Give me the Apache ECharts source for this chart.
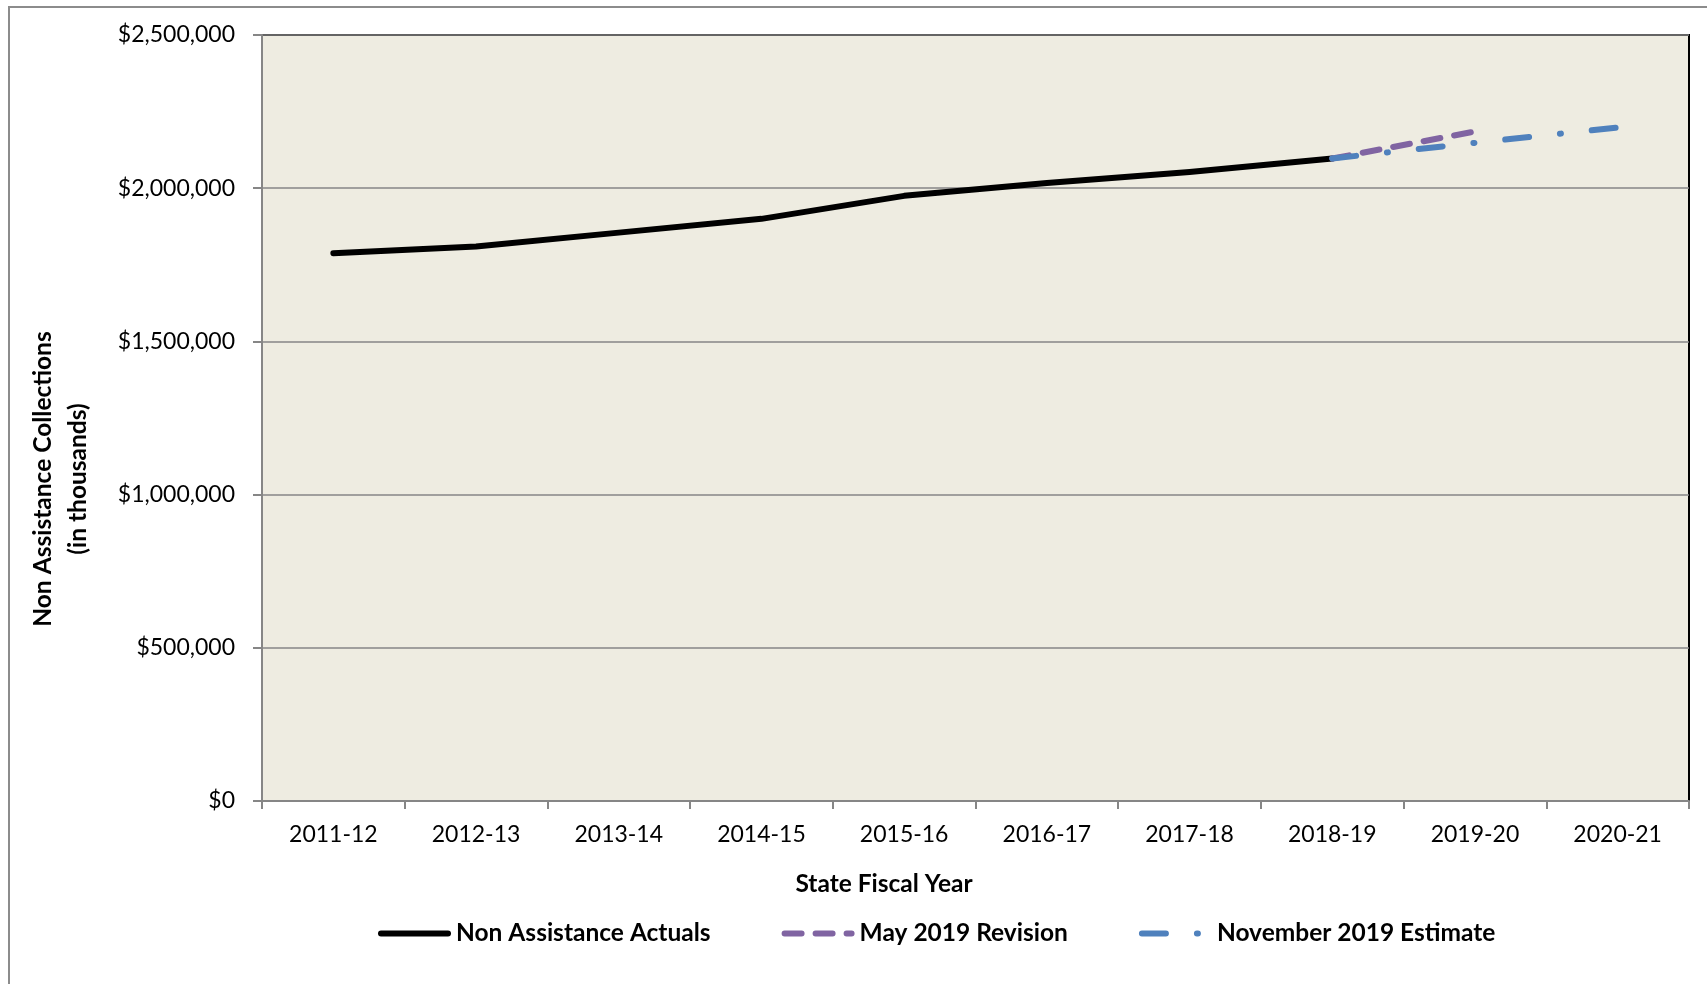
<!DOCTYPE html>
<html>
<head>
<meta charset="utf-8">
<title>Non Assistance Collections</title>
<script src="https://cdn.jsdelivr.net/npm/echarts@6/dist/echarts.min.js"></script>
<style>
  html, body { margin: 0; padding: 0; background: #ffffff; }
  #chart { width: 1707px; height: 984px; }
</style>
</head>
<body>
<div id="chart"></div>
<script>
// State fiscal years on the x axis
const fiscalYears = ['2011-12', '2012-13', '2013-14', '2014-15', '2015-16',
                     '2016-17', '2017-18', '2018-19', '2019-20', '2020-21'];

// Collections in thousands of dollars
const actuals = [1788000, 1810000, 1855000, 1900000, 1975000, 2017000, 2053000, 2097000, null, null];
const may2019Revision = [null, null, null, null, null, null, null, 2097000, 2185000, null];
const nov2019Estimate = [null, null, null, null, null, null, null, 2097000, 2148000, 2198000];

// Value axis ticks
const yTicks = { min: 0, max: 2500000, interval: 500000 };

const FONT = 'Lato, "Open Sans", sans-serif';
const BOLD_SIZE = 24.5;

function money(v) {
  return '$' + v.toLocaleString('en-US');
}

const chart = echarts.init(document.getElementById('chart'), null, { renderer: 'canvas' });

chart.setOption({
  backgroundColor: '#ffffff',
  animation: false,
  textStyle: { fontFamily: FONT, color: '#000' },
  grid: {
    left: 262, top: 35, right: 18, bottom: 183,
    show: true,
    backgroundColor: '#EEECE1',
    borderColor: '#000000',
    borderWidth: 2
  },
  legend: {
    left: 373,
    top: 916,
    itemWidth: 67,
    itemHeight: 14,
    itemGap: 71,
    itemStyle: { opacity: 0, borderWidth: 0 },
    lineStyle: { width: 6, cap: 'round' },
    textStyle: {
      fontFamily: FONT, fontSize: BOLD_SIZE, fontWeight: 'bold', color: '#000',
      padding: [0, 0, 0, 3]
    },
    data: ['Non Assistance Actuals', 'May 2019 Revision', 'November 2019 Estimate']
  },
  xAxis: {
    type: 'category',
    data: fiscalYears,
    boundaryGap: true,
    axisLine: { show: true, lineStyle: { color: '#868686', width: 2 } },
    axisTick: { show: true, length: 8, alignWithLabel: false, lineStyle: { color: '#868686', width: 2 } },
    axisLabel: { fontFamily: FONT, fontSize: 23, color: '#000', margin: 22 }
  },
  yAxis: {
    type: 'value',
    min: yTicks.min,
    max: yTicks.max,
    interval: yTicks.interval,
    axisLine: { show: true, lineStyle: { color: '#868686', width: 2 } },
    axisTick: { show: true, length: 9, lineStyle: { color: '#868686', width: 2 } },
    splitLine: { show: true, lineStyle: { color: '#868686', width: 1.5 } },
    axisLabel: { fontFamily: FONT, fontSize: 23, color: '#000', margin: 27, formatter: money }
  },
  graphic: [
    {
      type: 'rect',
      silent: true,
      z: -10,
      shape: { x: 9, y: 7, width: 1760, height: 1010 },
      style: { fill: 'none', stroke: '#8C8C8C', lineWidth: 2 }
    },
    {
      type: 'text',
      silent: true,
      x: 884, y: 884,
      style: {
        text: 'State Fiscal Year',
        fontFamily: FONT, fontSize: BOLD_SIZE, fontWeight: 'bold', fill: '#000',
        align: 'center', verticalAlign: 'middle'
      }
    },
    {
      type: 'text',
      silent: true,
      x: 61, y: 479,
      rotation: Math.PI / 2,
      style: {
        text: 'Non Assistance Collections\n(in thousands)',
        fontFamily: FONT, fontSize: BOLD_SIZE, fontWeight: 'bold', fill: '#000',
        align: 'center', verticalAlign: 'middle', lineHeight: 35
      }
    }
  ],
  series: [
    {
      name: 'Non Assistance Actuals',
      type: 'line',
      data: actuals,
      showSymbol: false,
      symbol: 'none',
      z: 2,
      lineStyle: { color: '#000000', width: 6, cap: 'round', join: 'round' },
      itemStyle: { color: '#000000' }
    },
    {
      name: 'May 2019 Revision',
      type: 'line',
      data: may2019Revision,
      showSymbol: false,
      symbol: 'none',
      z: 3,
      lineStyle: { color: '#8064A2', width: 6, type: [17, 14], cap: 'round', join: 'round' },
      itemStyle: { color: '#8064A2' }
    },
    {
      name: 'November 2019 Estimate',
      type: 'line',
      data: nov2019Estimate,
      showSymbol: false,
      symbol: 'none',
      z: 4,
      lineStyle: { color: '#4F81BD', width: 6, type: [24, 31, 1, 31], cap: 'round', join: 'round' },
      itemStyle: { color: '#4F81BD' }
    }
  ]
});
</script>
</body>
</html>
